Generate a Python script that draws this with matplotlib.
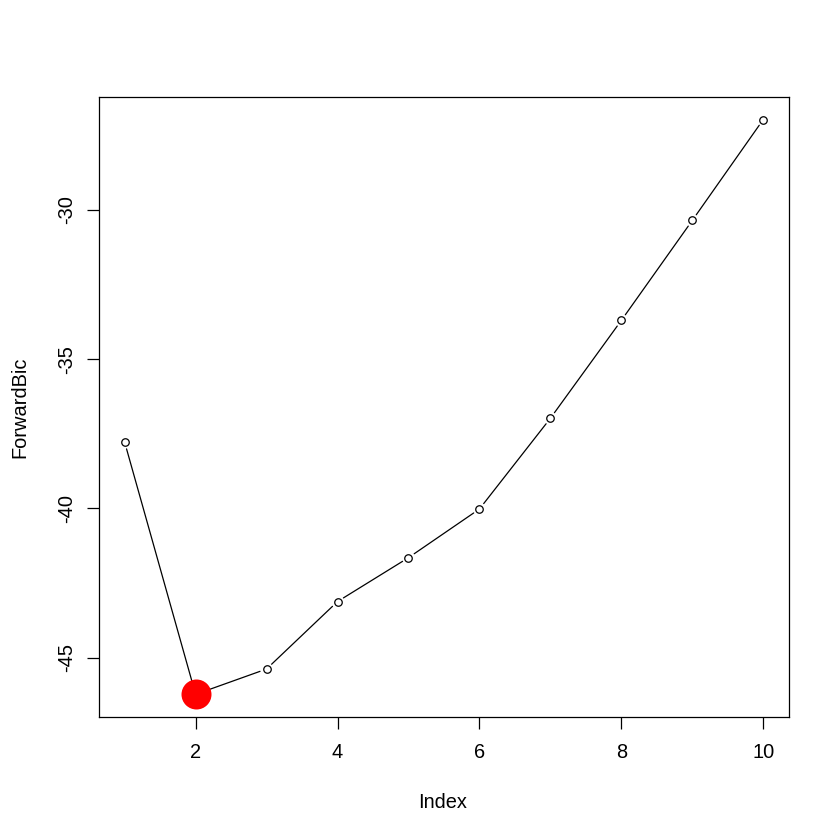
import matplotlib
matplotlib.use('Agg')
from matplotlib import pyplot as plt

plt.rcParams['font.family'] = ['Liberation Sans', 'DejaVu Sans']
plt.rcParams['axes.unicode_minus'] = False

index = [1, 2, 3, 4, 5, 6, 7, 8, 9, 10]
forward_bic = [-37.78, -46.23, -45.38, -43.12, -41.65, -40.02, -36.98, -33.70, -30.35, -26.97]
best = 2  # index of the minimum

fig = plt.figure(figsize=(8.4, 8.4), dpi=100)
ax = fig.add_axes([0.118, 0.146, 0.821, 0.739])

# type="b" style: segments stop short of the points
for i in range(len(index) - 1):
    ax.annotate('', xy=(index[i + 1], forward_bic[i + 1]), xytext=(index[i], forward_bic[i]),
                arrowprops=dict(arrowstyle='-', color='black', lw=0.9,
                                shrinkA=5, shrinkB=5), zorder=1)
ax.plot(index, forward_bic, linestyle='none', marker='o', markersize=5.4,
        markerfacecolor='white', markeredgecolor='black', markeredgewidth=0.9, zorder=2)
ax.plot(index[best - 1], forward_bic[best - 1], marker='o', markersize=21.6,
        markeredgewidth=0, color='red', linestyle='none', zorder=3)

lo, hi = min(index), max(index)
pad = (hi - lo) * 0.04
ax.set_xlim(lo - pad, hi + pad)
lo, hi = min(forward_bic), max(forward_bic)
pad = (hi - lo) * 0.04
ax.set_ylim(lo - pad, hi + pad)

ax.set_xticks([2, 4, 6, 8, 10])
ax.set_yticks([-45, -40, -35, -30])
ax.tick_params(direction='out', length=8.6, width=0.9, labelsize=14.4)
ax.tick_params(axis='x', pad=10)
ax.tick_params(axis='y', pad=8)
for lab in ax.get_yticklabels():
    lab.set_rotation(90)
    lab.set_va('center')
for s in ax.spines.values():
    s.set_linewidth(0.9)

ax.set_xlabel('Index', fontsize=14.4, va='center')
ax.xaxis.set_label_coords(443 / 840, 1 - 803 / 840, transform=fig.transFigure)
ax.set_ylabel('ForwardBic', fontsize=14.4, va='center')
ax.yaxis.set_label_coords(20 / 840, 1 - 407 / 840, transform=fig.transFigure)

fig.savefig('out.png', dpi=100)
